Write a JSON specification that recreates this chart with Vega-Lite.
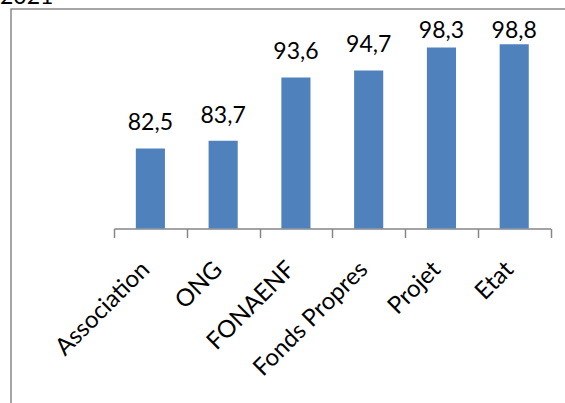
{
  "$schema": "https://vega.github.io/schema/vega-lite/v6.json",
  "width": 560,
  "height": 400,
  "autosize": {"type": "none"},
  "padding": {"left": 11, "top": 9, "right": -6, "bottom": -6},
  "background": "white",
  "title": {"text": "2021", "anchor": "start", "frame": "group", "orient": "top", "offset": 0, "dx": -11, "dy": 18, "baseline": "alphabetic", "font": "Lato", "fontSize": 23, "fontWeight": "normal", "color": "black"},
  "config": {
    "view": {"stroke": "#898989", "strokeWidth": 1.5},
    "locale": {"number": {"decimal": ",", "thousands": " ", "grouping": [3], "currency": ["", " €"]}}
  },
  "data": {"values": [
    {"source": "Association", "value": 82.5},
    {"source": "ONG", "value": 83.7},
    {"source": "FONAENF", "value": 93.6},
    {"source": "Fonds Propres", "value": 94.7},
    {"source": "Projet", "value": 98.3},
    {"source": "Etat", "value": 98.8}
  ]},
  "encoding": {
    "x": {
      "field": "source", "type": "nominal", "sort": null,
      "scale": {"range": [103, 539.6], "paddingInner": 0, "paddingOuter": 0},
      "axis": {
        "title": null, "orient": "bottom", "offset": -180.5,
        "domainColor": "#868686", "domainWidth": 1.5,
        "tickColor": "#868686", "tickWidth": 1.5, "tickSize": 9, "tickBand": "extent",
        "labelAngle": -45, "labelAlign": "right", "labelBaseline": "alphabetic", "labelPadding": 33,
        "labelFont": "Lato", "labelFontSize": 24, "labelColor": "black", "labelOverlap": false, "labelLimit": 400
      }
    }
  },
  "layer": [
    {
      "mark": {"type": "bar", "color": "#4f81bd", "width": {"band": 0.4}},
      "encoding": {
        "y": {"field": "value", "type": "quantitative", "scale": {"domain": [70, 100], "range": [219.5, 27.5], "nice": false, "zero": false}, "axis": null},
        "y2": {"datum": 70}
      }
    },
    {
      "mark": {"type": "text", "dy": -18, "baseline": "alphabetic", "font": "Lato", "fontSize": 23, "color": "black"},
      "encoding": {
        "y": {"field": "value", "type": "quantitative", "scale": {"domain": [70, 96.9], "range": [219.5, 47.3], "clamp": true, "nice": false, "zero": false}, "axis": null},
        "text": {"field": "value", "type": "quantitative", "format": ".1f"}
      }
    }
  ],
  "resolve": {"scale": {"y": "independent"}}
}
